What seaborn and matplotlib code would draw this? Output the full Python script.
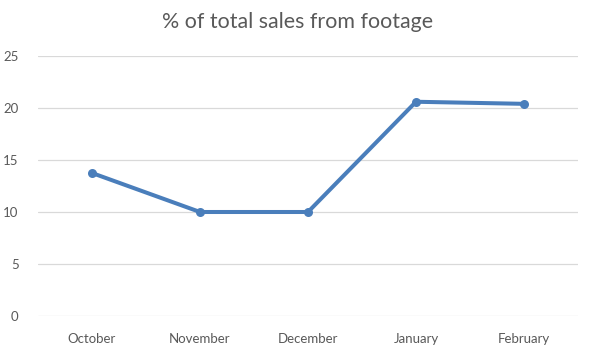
import pandas as pd
import matplotlib
matplotlib.use("Agg")
import matplotlib.pyplot as plt
import seaborn as sns

# --- data ---
months = ["October", "November", "December", "January", "February"]
pct_sales = [13.75, 10.0, 10.0, 20.6, 20.4]

df = pd.DataFrame({"Month": months, "Pct": pct_sales})

sns.set_style("white")
plt.rcParams["font.family"] = ["Lato", "DejaVu Sans"]

fig = plt.figure(figsize=(5.91, 3.53), dpi=100)
ax = fig.add_axes([38 / 591, 37 / 353, 540 / 591, 260 / 353])

x = list(range(len(months)))
sns.lineplot(x=x, y=df["Pct"], ax=ax, color="#4A7EBB", linewidth=2.9,
             marker="o", markersize=6.5, markeredgewidth=0)

ax.set_xlim(-0.5, len(months) - 0.5)
ax.set_ylim(0, 25)
ax.set_yticks([0, 5, 10, 15, 20, 25])
ax.set_xticks(x)
ax.set_xticklabels(months)
ax.yaxis.grid(True, color="#D9D9D9", linewidth=0.9)
ax.set_axisbelow(True)
for s in ax.spines.values():
    s.set_visible(False)
ax.tick_params(axis="both", length=0, labelsize=9.5, colors="#595959")
ax.tick_params(axis="x", pad=12)
ax.tick_params(axis="y", pad=14)
ax.set_xlabel("")
ax.set_ylabel("")

fig.text(298 / 591, 1 - 22 / 353, "% of total sales from footage", ha="center",
         va="center", fontsize=15.4, color="#595959")

fig.savefig("out.png", dpi=100)
